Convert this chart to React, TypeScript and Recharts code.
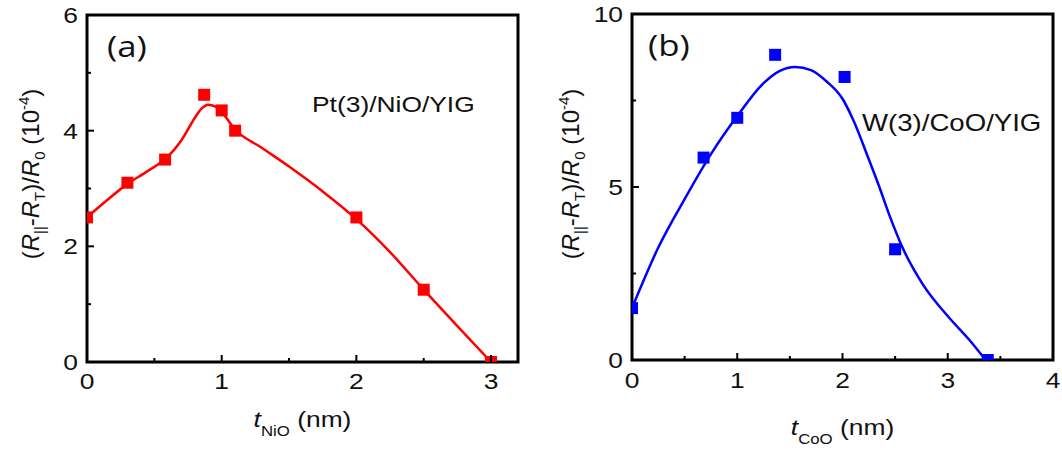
import React from 'react';
import { ComposedChart, Line, Scatter, XAxis, YAxis, ReferenceArea, Label } from 'recharts';

// measured points, panel (a) Pt(3)/NiO/YIG
const nioX = [0, 0.3, 0.58, 0.87, 1.0, 1.1, 2.0, 2.5, 3.0];
const nioY = [2.5, 3.1, 3.5, 4.62, 4.35, 4.0, 2.5, 1.25, 0];
// guide curve
const nioFitX = [0, 0.15, 0.3, 0.45, 0.6, 0.7, 0.8, 0.85, 0.9, 0.95, 1.0, 1.1, 1.3, 1.5, 1.75, 2.0, 2.25, 2.5, 2.75, 3.0];
const nioFitY = [2.5, 2.8, 3.08, 3.3, 3.55, 3.83, 4.22, 4.38, 4.45, 4.42, 4.32, 4.02, 3.7, 3.38, 2.95, 2.47, 1.9, 1.25, 0.62, 0];

// panel (b) W(3)/CoO/YIG
const cooX = [0, 0.68, 1.0, 1.36, 2.02, 2.5, 3.38];
const cooY = [1.5, 5.85, 7.0, 8.82, 8.18, 3.2, 0];
const cooFitX = [0, 0.25, 0.5, 0.75, 1.0, 1.25, 1.4, 1.55, 1.7, 1.85, 2.0, 2.1, 2.25, 2.35, 2.45, 2.57, 2.76, 3.02, 3.2, 3.36];
const cooFitY = [1.5, 3.25, 4.65, 5.95, 7.05, 8.0, 8.35, 8.47, 8.38, 8.05, 7.55, 6.95, 5.8, 5.0, 4.15, 3.25, 2.2, 1.2, 0.6, 0];

const nioXTicks = [0, 0.5, 1, 1.5, 2, 2.5, 3];
const nioXLabels = [0, 1, 2, 3];
const nioYTicks = [0, 1, 2, 3, 4, 5, 6];
const nioYLabels = [0, 2, 4, 6];
const cooXTicks = [0, 0.5, 1, 1.5, 2, 2.5, 3, 3.5, 4];
const cooXLabels = [0, 1, 2, 3, 4];
const cooYTicks = [0, 2.5, 5, 7.5, 10];
const cooYLabels = [0, 5, 10];

const FONT = '"Liberation Sans", Arial, sans-serif';
const INK = '#111';

const zip = (xs: number[], ys: number[]) => xs.map((x, i) => ({ x, y: ys[i] }));

const XTick = ({ x, y, payload, labels, labelDy }: any) => {
    const major = labels.includes(payload.value);
    return (
        <g>
            <line x1={x} y1={y} x2={x} y2={y - (major ? 7 : 4)} stroke="#000" strokeWidth={2} />
            {major && (
                <g transform={`translate(${x},${y + labelDy}) scale(1.2,1)`}>
                    <text textAnchor="middle" fontSize={22} fontFamily={FONT} fill={INK}>
                        {payload.value}
                    </text>
                </g>
            )}
        </g>
    );
};

const YTick = ({ x, y, payload, labels }: any) => {
    const major = labels.includes(payload.value);
    return (
        <g>
            <line x1={x} y1={y} x2={x + (major ? 7 : 4)} y2={y} stroke="#000" strokeWidth={2} />
            {major && (
                <g transform={`translate(${x - 9},${y + 8}) scale(1.2,1)`}>
                    <text textAnchor="end" fontSize={22} fontFamily={FONT} fill={INK}>
                        {payload.value}
                    </text>
                </g>
            )}
        </g>
    );
};

const YTitle = ({ cx, cy }: { cx: number; cy: number }) => (
    <g transform={`translate(${cx},${cy}) rotate(-90)`}>
        <text textAnchor="middle" fontSize={24} fontFamily={FONT} fill={INK} dy={8}>
            <tspan>(</tspan>
            <tspan fontStyle="italic">R</tspan>
            <tspan fontSize={15} dy={6}>||</tspan>
            <tspan dy={-6}>-</tspan>
            <tspan fontStyle="italic">R</tspan>
            <tspan fontSize={15} dy={6}>T</tspan>
            <tspan dy={-6}>)/</tspan>
            <tspan fontStyle="italic">R</tspan>
            <tspan fontSize={15} dy={6}>0</tspan>
            <tspan dy={-6}> (10</tspan>
            <tspan fontSize={15} dy={-10}>-4</tspan>
            <tspan dy={10}>)</tspan>
        </text>
    </g>
);

const XTitle = ({ cx, y, sub }: { cx: number; y: number; sub: string }) => (
    <g transform={`translate(${cx},${y}) scale(1.2,1)`}>
        <text textAnchor="middle" fontSize={22} fontFamily={FONT} fill={INK}>
            <tspan fontStyle="italic">t</tspan>
            <tspan fontSize={14} dy={9}>{sub}</tspan>
            <tspan dy={-9}> (nm)</tspan>
        </text>
    </g>
);

interface PanelProps {
    px: number[];
    py: number[];
    fx: number[];
    fy: number[];
    color: string;
    xMax: number;
    yMax: number;
    xTicks: number[];
    xLabels: number[];
    yTicks: number[];
    yLabels: number[];
    tag: string;
    sample: string;
    sub: string;
    width: number;
    axisW: number;
    top: number;
    right: number;
    bottom: number;
    xLabelDy: number;
    xTitleDy: number;
    tagDx: number;
    sampleDx: number;
    sampleDy: number;
    sampleSize: number;
}

function Panel(p: PanelProps) {
    const points = zip(p.px, p.py);
    const fit = zip(p.fx, p.fy);
    return (
        <ComposedChart width={p.width} height={456} margin={{ top: p.top, right: p.right, bottom: p.bottom, left: 0 }}>
            <XAxis
                type="number"
                dataKey="x"
                domain={[0, p.xMax]}
                ticks={p.xTicks}
                interval={0}
                allowDataOverflow
                axisLine={false}
                tickLine={false}
                tickSize={0}
                tickMargin={0}
                height={60}
                tick={<XTick labels={p.xLabels} labelDy={p.xLabelDy} />}
            >
                <Label content={({ viewBox }: any) => <XTitle cx={viewBox.x + viewBox.width / 2} y={viewBox.y + p.xTitleDy} sub={p.sub} />} />
            </XAxis>
            <YAxis
                type="number"
                dataKey="y"
                domain={[0, p.yMax]}
                ticks={p.yTicks}
                interval={0}
                allowDataOverflow
                axisLine={false}
                tickLine={false}
                tickSize={0}
                tickMargin={0}
                width={p.axisW}
                tick={<YTick labels={p.yLabels} />}
            >
                <Label content={({ viewBox }: any) => <YTitle cx={viewBox.x + 31} cy={174} />} />
            </YAxis>
            <ReferenceArea
                x1={0}
                x2={p.xMax}
                y1={0}
                y2={p.yMax}
                fill="none"
                stroke="#000"
                strokeWidth={3}
                ifOverflow="visible"
            >
                <Label
                    content={({ viewBox }: any) => (
                        <g>
                            <g transform={`translate(${viewBox.x + p.tagDx},${viewBox.y + 42}) scale(1.2,1)`}>
                                <text fontSize={29} fontFamily='"Open Sans", sans-serif' fill={INK}>
                                    {p.tag}
                                </text>
                            </g>
                            <g transform={`translate(${viewBox.x + p.sampleDx},${viewBox.y + p.sampleDy}) scale(1.2,1)`}>
                                <text fontSize={p.sampleSize} fontFamily={FONT} fill={INK}>
                                    {p.sample}
                                </text>
                            </g>
                        </g>
                    )}
                />
            </ReferenceArea>
            <Line
                data={fit}
                dataKey="y"
                type="monotone"
                stroke={p.color}
                strokeWidth={2.5}
                dot={false}
                activeDot={false}
                isAnimationActive={false}
            />
            <Scatter
                data={points}
                dataKey="y"
                fill={p.color}
                isAnimationActive={false}
                shape={(s: any) => <rect x={s.cx - 6} y={s.cy - 6} width={12} height={12} fill={p.color} />}
            />
        </ComposedChart>
    );
}

export default function App() {
    return (
        <div style={{ position: 'absolute', left: 0, top: 0, width: 1062, height: 456, background: '#fff' }}>
            <div style={{ position: 'absolute', left: 0, top: 0 }}>
                <Panel
                    px={nioX}
                    py={nioY}
                    fx={nioFitX}
                    fy={nioFitY}
                    color="#ff0000"
                    xMax={3.2}
                    yMax={6}
                    xTicks={nioXTicks}
                    xLabels={nioXLabels}
                    yTicks={nioYTicks}
                    yLabels={nioYLabels}
                    tag="(a)"
                    sample="Pt(3)/NiO/YIG"
                    sub="NiO"
                    width={540}
                    axisW={87}
                    top={15}
                    right={22}
                    bottom={34}
                    xLabelDy={27}
                    xTitleDy={65}
                    tagDx={20}
                    sampleDx={225}
                    sampleDy={97}
                    sampleSize={22}
                />
            </div>
            <div style={{ position: 'absolute', left: 540, top: 0 }}>
                <Panel
                    px={cooX}
                    py={cooY}
                    fx={cooFitX}
                    fy={cooFitY}
                    color="#0000ff"
                    xMax={4}
                    yMax={10}
                    xTicks={cooXTicks}
                    xLabels={cooXLabels}
                    yTicks={cooYTicks}
                    yLabels={cooYLabels}
                    tag="(b)"
                    sample="W(3)/CoO/YIG"
                    sub="CoO"
                    width={522}
                    axisW={92}
                    top={14}
                    right={9}
                    bottom={36}
                    xLabelDy={28}
                    xTitleDy={75}
                    tagDx={16}
                    sampleDx={230}
                    sampleDy={117}
                    sampleSize={23}
                />
            </div>
        </div>
    );
}
